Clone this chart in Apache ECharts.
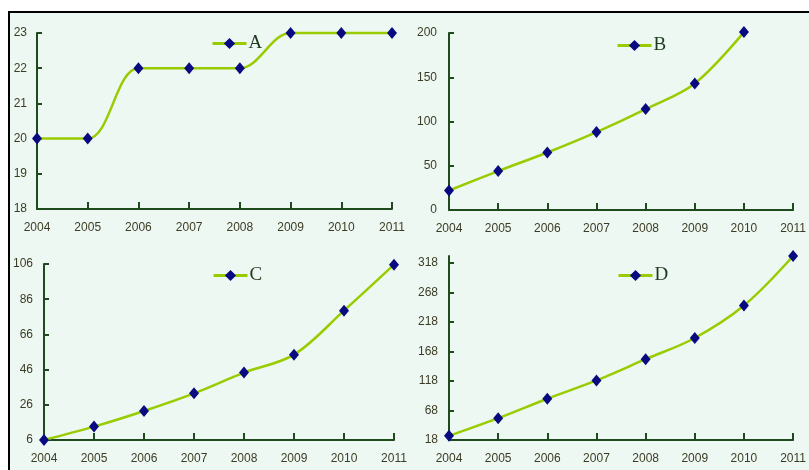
<!DOCTYPE html>
<html>
<head>
<meta charset="utf-8">
<script src="https://cdn.jsdelivr.net/npm/echarts@6/dist/echarts.min.js"></script>
<style>
html,body{margin:0;padding:0;background:#ffffff;}
#bg{position:absolute;left:8px;top:11px;width:809px;height:470px;background:#EEF8F3;border-left:2px solid #000;border-top:2px solid #000;}
#main{position:absolute;left:0;top:0;width:809px;height:470px;}
</style>
</head>
<body>
<div id="bg"></div>
<div id="main"></div>
<script>
var years = ['2004','2005','2006','2007','2008','2009','2010','2011'];
var seriesA = [20, 20, 22, 22, 22, 23, 23, 23];
var seriesB = [22, 44, 65, 88, 114, 143, 201, null];
var seriesC = [6, 13.6, 22.5, 32.5, 44.3, 54.5, 79.5, 105.6];
var seriesD = [25, 55, 88, 119, 155, 191, 246, 330];
var names = ['A', 'B', 'C', 'D'];
var yRanges = [
  {min: 18, max: 23, interval: 1},
  {min: 0, max: 200, interval: 50},
  {min: 6, max: 106, interval: 20},
  {min: 18, max: 330, interval: 50}
];

var grids = [
  {left: 37, top: 33, width: 355, height: 176},
  {left: 449, top: 33, width: 349, height: 177},
  {left: 44, top: 264, width: 350, height: 176},
  {left: 449, top: 256, width: 350, height: 184}
];
var yMargins = [10, 12, 11, 11];
var legendPos = [
  {left: 211, top: 34},
  {left: 616, top: 36},
  {left: 212, top: 266},
  {left: 617, top: 266}
];
var data = [seriesA, seriesB, seriesC, seriesD];

var axisColor = '#1E4A1E';
var labelColor = '#3C3C24';
var labelFont = 'Liberation Sans';

var option = {
  animation: false,
  backgroundColor: 'transparent',
  grid: grids,
  xAxis: grids.map(function (g, i) {
    return {
      type: 'category', gridIndex: i, data: years, boundaryGap: false,
      axisLine: {lineStyle: {color: axisColor, width: 2}},
      axisTick: {inside: true, length: 7, lineStyle: {color: axisColor, width: 2}},
      axisLabel: {color: labelColor, fontSize: 12, fontFamily: labelFont, margin: 13, interval: 0},
      splitLine: {show: false}
    };
  }),
  yAxis: grids.map(function (g, i) {
    return {
      type: 'value', gridIndex: i,
      min: yRanges[i].min, max: yRanges[i].max, interval: yRanges[i].interval,
      axisLine: {show: true, lineStyle: {color: axisColor, width: 2}},
      axisTick: {show: true, inside: true, length: 5, lineStyle: {color: axisColor, width: 2}},
      axisLabel: {color: labelColor, fontSize: 12, fontFamily: labelFont, margin: yMargins[i], showMaxLabel: i === 3 ? false : true},
      splitLine: {show: false}
    };
  }),
  legend: legendPos.map(function (p, i) {
    return {
      data: [names[i]], left: p.left, top: p.top, padding: 0,
      itemWidth: 34, itemHeight: 14, itemGap: 0,
      lineStyle: {width: 3},
      textStyle: {fontFamily: 'Liberation Serif', fontSize: 19, color: '#1E3A1E', padding: [0, 0, 0, -3]}
    };
  }),
  series: data.map(function (d, i) {
    return {
      name: names[i], type: 'line', xAxisIndex: i, yAxisIndex: i,
      data: d, smooth: 0.35, clip: false,
      symbol: 'diamond', symbolSize: [10, 12],
      lineStyle: {color: '#99CC00', width: 2.5},
      itemStyle: {color: '#0A0A80', borderWidth: 0}
    };
  })
};

var chart = echarts.init(document.getElementById('main'), null, {renderer: 'canvas'});
chart.setOption(option);
</script>
</body>
</html>
